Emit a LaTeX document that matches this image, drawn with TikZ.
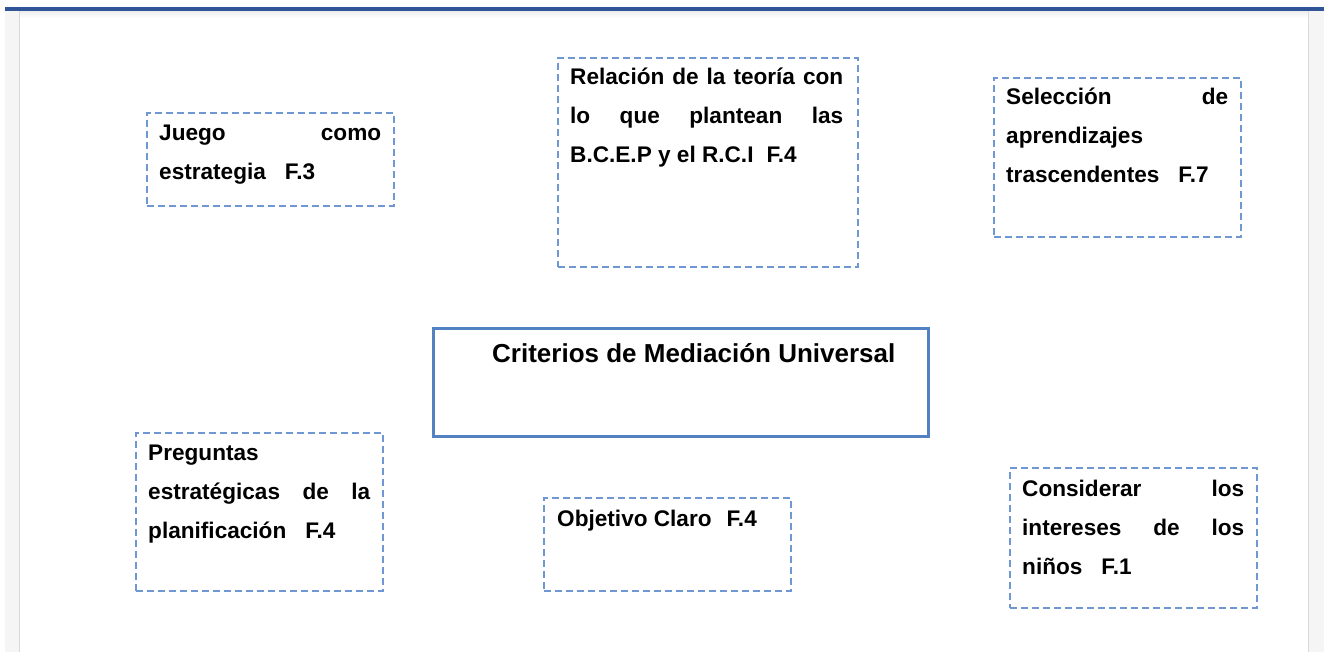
\documentclass[tikz,border=0pt]{standalone}
\usepackage{fontspec}
\setmainfont{Liberation Sans}
\definecolor{dashblue}{HTML}{6F98D2}
\definecolor{solidblue}{HTML}{5282C2}
\definecolor{barblue}{HTML}{2F5597}
\definecolor{stripgray}{HTML}{F5F5F5}
\definecolor{linegray}{HTML}{D9D9D9}
\newcommand{\gapA}{\hspace{13pt}}
\newcommand{\gapB}{\hspace{19pt}}
\tikzset{
  dbox/.style={draw=dashblue, line width=1.7pt, dash pattern=on 7pt off 4pt, inner sep=0pt, anchor=north west},
  sbox/.style={draw=solidblue, line width=3pt, inner sep=0pt, anchor=north west},
  txt/.style={inner sep=0pt, anchor=base west, font=\bfseries\fontsize{22.6}{39}\selectfont},
  ttl/.style={inner sep=0pt, anchor=base west, font=\bfseries\fontsize{26}{30}\selectfont},
}
\begin{document}
\hyphenpenalty=10000
\begin{tikzpicture}[x=1pt,y=-1pt]
\useasboundingbox (0,0) rectangle (1324,652);
% page background
\fill[stripgray] (5,11) rectangle (19,652);
\fill[stripgray] (1309,11) rectangle (1324,652);
\draw[linegray, line width=1.5pt] (19.5,11) -- (19.5,652);
\draw[linegray, line width=1.5pt] (1308.5,11) -- (1308.5,652);
\shade[top color=black!7, bottom color=white] (20,11) rectangle (1308,18);
\fill[barblue] (5,7) rectangle (1324,11);
% boxes
\node[dbox, minimum width=247pt, minimum height=93pt] (juego) at (146,112) {};
\node[dbox, minimum width=300pt, minimum height=209pt] (relacion) at (557,57) {};
\node[dbox, minimum width=247pt, minimum height=159pt] (seleccion) at (993,77) {};
\node[sbox, minimum width=495pt, minimum height=108pt] (criterios) at (432,327) {};
\node[dbox, minimum width=247pt, minimum height=158pt] (preguntas) at (135,432) {};
\node[dbox, minimum width=247pt, minimum height=93pt] (objetivo) at (543,497) {};
\node[dbox, minimum width=247pt, minimum height=140pt] (considerar) at (1009,467) {};
% texts
\node[txt] (juegot) at (159,141) {\parbox[t]{222pt}{Juego como\linebreak estrategia\gapB F.3}};
\node[txt] (relaciont) at (570,85) {\parbox[t]{273pt}{Relación de la teoría con\linebreak lo que plantean las\linebreak B.C.E.P y el R.C.I\gapA F.4}};
\node[txt] (selecciont) at (1006,105) {\parbox[t]{222pt}{Selección de\linebreak aprendizajes\\ trascendentes\gapB F.7}};
\node[ttl] (criteriost) at (492,362) {Criterios de Mediación Universal};
\node[txt] (preguntast) at (148,460) {\parbox[t]{222pt}{Preguntas\\ estratégicas de la\linebreak planificación\gapB F.4}};
\node[txt] (objetivot) at (557,526) {Objetivo Claro\hspace{15pt}F.4};
\node[txt] (considerart) at (1022,496) {\parbox[t]{222pt}{Considerar los\linebreak intereses de los\linebreak niños\gapB F.1}};
\end{tikzpicture}
\end{document}
